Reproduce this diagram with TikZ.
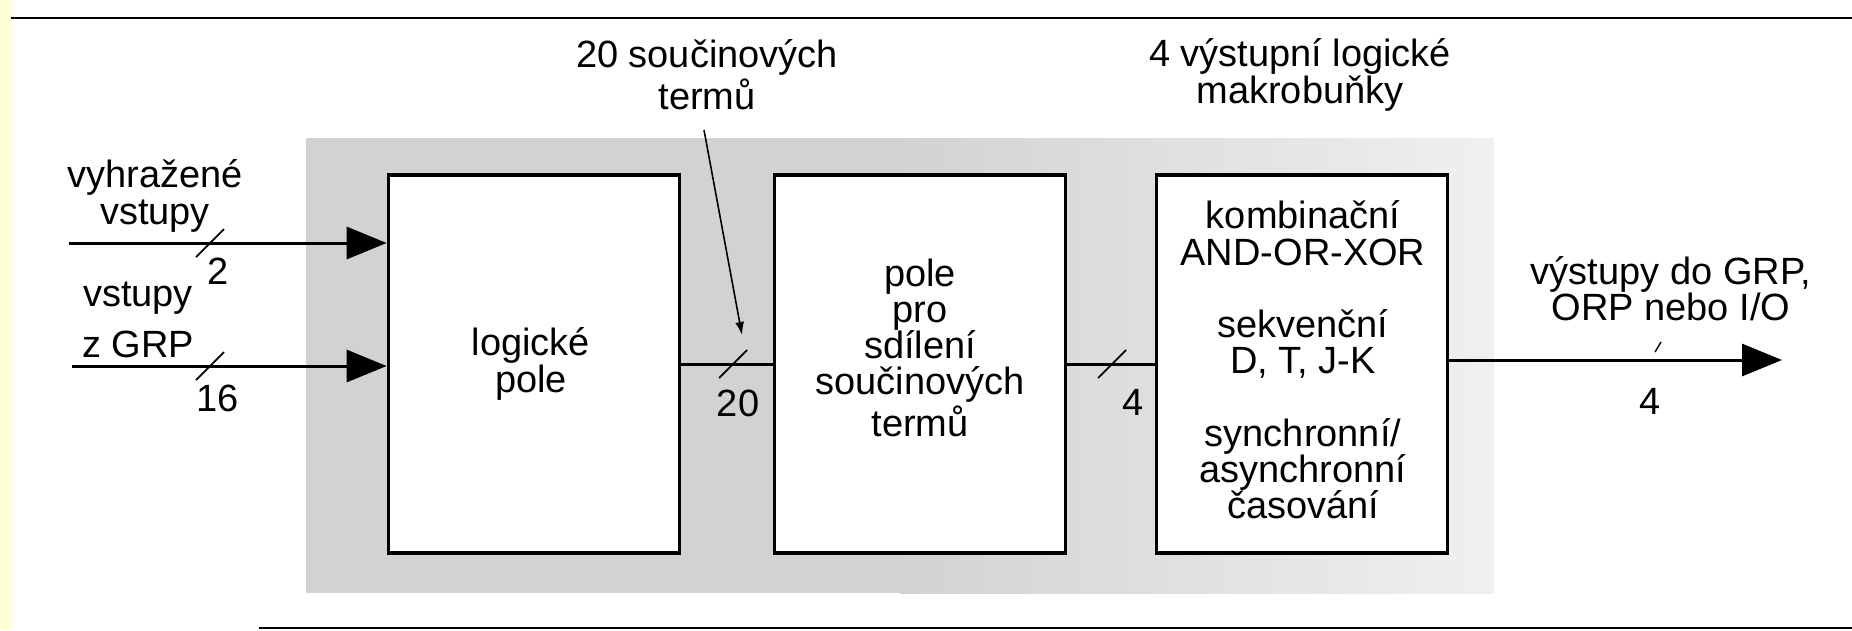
\documentclass[tikz,border=0pt]{standalone}
\usepackage{fontspec}
\setmainfont{Liberation Sans}
\usetikzlibrary{arrows.meta}
\definecolor{scanyellow}{RGB}{255,255,212}

\begin{document}
\begin{tikzpicture}[x=0.01cm, y=-0.01cm,
  font=\fontsize{10.8}{10.3}\selectfont,
  block/.style={draw, line width=1pt, fill=white, minimum width=2.91cm, minimum height=3.78cm, inner sep=0pt},
  txt/.style={align=center, inner sep=0pt},
  bus/.style={line width=0.85pt},
  busin/.style={bus, -{Triangle[length=4mm, width=3.2mm]}},
  slash/.style={line width=0.5pt}]

\useasboundingbox (0,0) rectangle (1852,630);

% scan margin and rules
\fill[scanyellow] (0,0) rectangle (11,630);
\draw[line width=0.8pt] (11,18) -- (1852,18);
\draw[line width=0.6pt] (259,628) -- (1852,628);

% shaded background
\fill[gray!35] (306,138) rectangle (900,593);
\shade[left color=gray!35, right color=gray!12] (900,138) rectangle (1494,593);

% blocks
\node[block] (logic) at (534,364) {};
\node[block] (share) at (920,364) {};
\node[block] (macro) at (1302,364) {};

\node[txt] (logictxt) at (531,364) {logické\\pole};
\node[txt] (sharetxt) at (920,348) {pole\\pro\\sdílení\\součinových\\termů};
\node[txt] (macrotxt) at (1303,360) {kombinační\\AND-OR-XOR\\[10.3pt]sekvenční\\D, T, J-K\\[10.3pt]synchronní/\\asynchronní\\časování};

% inputs
\coordinate (resin) at (69,243);
\coordinate (grpin) at (72,366);
\draw[busin] (resin) -- (resin -| logic.west);
\draw[busin] (grpin) -- (grpin -| logic.west);
\node[txt] (reslbl) at (155,196) {vyhražené\\vstupy};
\node[txt] (grplbl) at (138,320) {vstupy\\[4pt]z GRP};

% links and output
\draw[bus] (logic.east) -- (share.west);
\draw[bus] (share.east) -- (macro.west);
\coordinate (outend) at (1782,360);
\draw[busin] (macro.east |- outend) -- (outend);
\node[txt] (outlbl) at (1671,289) {výstupy do GRP,\\ORP nebo I/O};

% bus widths
\foreach \p in {(210,243),(210,366),(733,364),(1112,364)}
  \draw[slash] \p ++(-14,14) -- ++(28,-28);
\draw[slash, line width=0.4pt] (1655,352) -- (1661,342);
\node (wres) at (218,271) {2};
\node (wgrp) at (218,398) {16};
\node (wterm) at (738,403) {20};
\node (wmacro) at (1133,402) {4};
\node (wout) at (1650,401) {4};

% top labels
\node[txt] (termlbl) at (707,75) {20 součinových\\termů};
\node[txt] (macrolbl) at (1300,75) {4 výstupní logické\\makrobuňky};
\coordinate (ptrtop) at (704,130);
\coordinate (ptrtip) at (742,335);
\draw[line width=0.45pt, -{Latex[length=1.3mm, width=0.9mm]}] (ptrtop) -- (ptrtip);

\end{tikzpicture}
\end{document}
